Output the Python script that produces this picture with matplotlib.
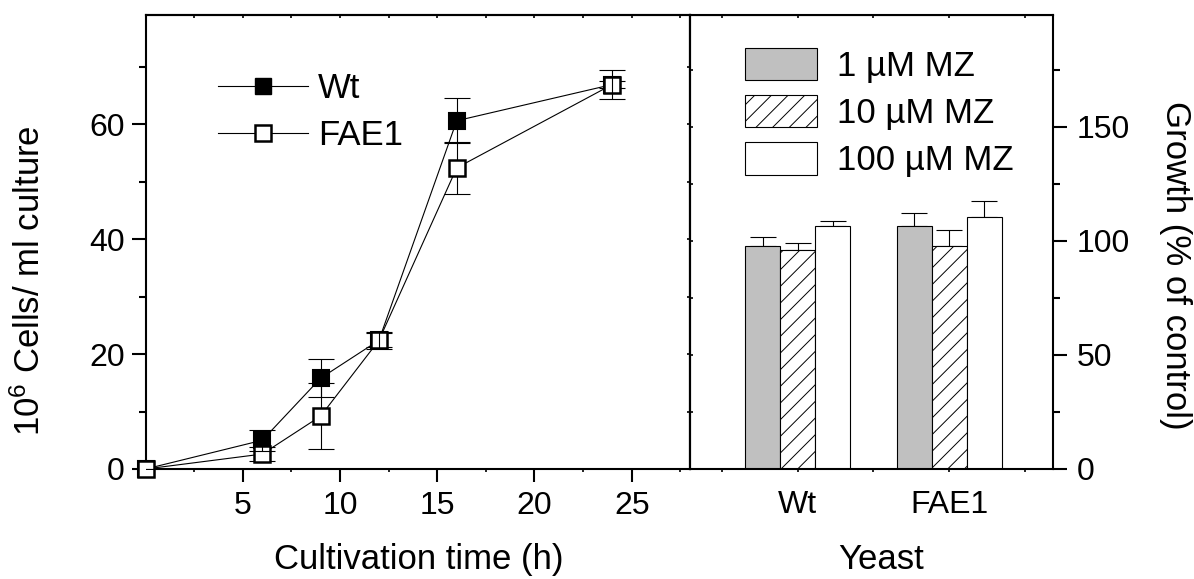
import numpy as np
import matplotlib
matplotlib.use('Agg')
import matplotlib.pyplot as plt
from matplotlib.lines import Line2D
from matplotlib.ticker import MultipleLocator

plt.rcParams['font.family'] = ['Liberation Sans', 'DejaVu Sans']
plt.rcParams['mathtext.default'] = 'regular'
plt.rcParams['hatch.linewidth'] = 0.7

# growth curve (left panel)
time_h = [0, 6, 9, 12, 16, 24]
wt_cells = [0, 5.0, 15.8, 22.4, 60.6, 66.9]
wt_err = [0, 1.8, 3.3, 1.5, 3.9, 2.6]
fae1_cells = [0, 2.6, 9.2, 22.4, 52.4, 66.9]
fae1_err = [0, 1.2, 5.8, 1.2, 4.5, 0.6]

# growth with MZ (right panel)
strains = ['Wt', 'FAE1']
mz_labels = ['1 µM MZ', '10 µM MZ', '100 µM MZ']
growth = [[97.7, 106.6],   # 1 uM
          [95.8, 97.7],    # 10 uM
          [106.6, 110.6]]  # 100 uM
growth_err = [[4.1, 5.5],
              [3.1, 7.0],
              [2.1, 7.0]]

TFS = 23   # tick labels
LFS = 25   # axis labels / legends
fig = plt.figure(figsize=(11.94, 5.79), dpi=100)
ax1 = fig.add_axes([0.1220, 0.19, 0.4559, 0.7841])
ax2 = fig.add_axes([0.5779, 0.19, 0.3043, 0.7841])

# ---- left panel
ax1.errorbar(time_h, fae1_cells, yerr=fae1_err, fmt='none', ecolor='k',
             elinewidth=0.8, capsize=9.7, capthick=0.8, zorder=1)
ax1.plot(time_h, wt_cells, '-', color='k', lw=0.8, zorder=2)
ax1.plot(time_h, fae1_cells, '-', color='k', lw=0.8, zorder=2)
ax1.plot(time_h, wt_cells, 's', ms=11, mfc='k', mec='k', mew=1.5,
         zorder=3, clip_on=False)
ax1.plot(time_h, fae1_cells, 's', ms=11, mfc='white', mec='k', mew=1.8,
         zorder=3.5, clip_on=False)
ax1.errorbar(time_h, wt_cells, yerr=wt_err, fmt='none', ecolor='k',
             elinewidth=0.8, capsize=9.7, capthick=0.8, zorder=4)

ax1.set_xlim(0, 28)
ax1.set_ylim(0, 79)
ax1.set_xticks([5, 10, 15, 20, 25])
ax1.xaxis.set_minor_locator(MultipleLocator(2.5))
ax1.set_yticks([0, 20, 40, 60])
ax1.yaxis.set_minor_locator(MultipleLocator(10))
ax1.tick_params(axis='x', which='major', direction='out', length=9, width=1.5,
                labelsize=TFS, pad=7)
ax1.tick_params(axis='x', which='minor', direction='out', length=2, width=1.2)
ax1.tick_params(axis='y', which='major', direction='out', length=10, width=1.5,
                labelsize=TFS, pad=5)
ax1.tick_params(axis='y', which='minor', direction='out', length=5, width=1.5)
for s in ax1.spines.values():
    s.set_linewidth(1.5)

top1 = ax1.secondary_xaxis('top')
top1.xaxis.set_major_locator(MultipleLocator(2.5))
top1.tick_params(direction='in', length=2, width=1.2, labeltop=False)
top1.spines['top'].set_linewidth(1.5)
right1 = ax1.secondary_yaxis('right')
right1.yaxis.set_major_locator(MultipleLocator(10))
right1.tick_params(direction='in', length=2, width=1.2, labelright=False)
right1.spines['right'].set_linewidth(1.5)

ax1.set_xlabel('Cultivation time (h)', fontsize=LFS)
ax1.xaxis.set_label_coords(0.502, -0.164)
ax1.set_ylabel('10$^6$ Cells/ ml culture', fontsize=LFS)
ax1.yaxis.set_label_coords(-0.181, 0.416)

h_wt = Line2D([], [], color='k', lw=0.8, marker='s', ms=11, mfc='k', mec='k')
h_fae = Line2D([], [], color='k', lw=0.8, marker='s', ms=11, mfc='white',
               mec='k', mew=1.8)
ax1.legend([h_wt, h_fae], strains, loc='upper left',
           bbox_to_anchor=(0.132, 0.875), frameon=False, fontsize=LFS,
           borderpad=0, borderaxespad=0, handlelength=2.62,
           handletextpad=0.27, labelspacing=0.41, numpoints=1)

# ---- right panel
x = np.arange(1, len(strains) + 1)
bw = 0.231
offsets = [-bw, 0, bw]
colors = ['#c0c0c0', 'white', 'white']
hatches = [None, '//', None]
bars = []
for i in range(3):
    b = ax2.bar(x + offsets[i], growth[i], width=bw, color=colors[i],
                edgecolor='k', linewidth=0.8, hatch=hatches[i], zorder=2)
    ax2.errorbar(x + offsets[i], growth[i],
                 yerr=[np.zeros(len(strains)), growth_err[i]], fmt='none',
                 ecolor='k', elinewidth=0.8, capsize=9.4, capthick=0.8,
                 zorder=1)
    bars.append(b)

ax2.set_xlim(0.288, 2.689)
ax2.set_ylim(0, 199)
ax2.set_xticks(x)
ax2.set_xticklabels(strains)
ax2.xaxis.set_minor_locator(MultipleLocator(0.5))
ax2.yaxis.tick_right()
ax2.yaxis.set_label_position('right')
ax2.set_yticks([0, 50, 100, 150])
ax2.yaxis.set_minor_locator(MultipleLocator(25))
ax2.tick_params(axis='x', which='both', direction='out', length=2, width=1.2,
                labelsize=TFS, pad=13)
ax2.tick_params(axis='y', which='major', direction='out', length=10, width=1.5,
                labelsize=TFS, pad=7)
ax2.tick_params(axis='y', which='minor', direction='out', length=5, width=1.5)
for s in ax2.spines.values():
    s.set_linewidth(1.5)

top2 = ax2.secondary_xaxis('top')
top2.xaxis.set_major_locator(MultipleLocator(0.5))
top2.tick_params(direction='in', length=2, width=1.2, labeltop=False)
left2 = ax2.secondary_yaxis('left')
left2.yaxis.set_major_locator(MultipleLocator(25))
left2.tick_params(direction='in', length=2, width=1.2, labelleft=False)

ax2.set_xlabel('Yeast', fontsize=LFS)
ax2.xaxis.set_label_coords(0.525, -0.164)
ax2.set_ylabel('Growth (% of control)', fontsize=LFS, rotation=270,
               va='bottom')
ax2.yaxis.set_label_coords(1.291, 0.448)

ax2.legend(bars, mz_labels, loc='upper left', bbox_to_anchor=(0.151, 0.927),
           frameon=False, fontsize=LFS, borderpad=0, borderaxespad=0,
           handlelength=2.07, handleheight=1.05, handletextpad=0.57,
           labelspacing=0.35)

fig.savefig('out.png', dpi=100)
